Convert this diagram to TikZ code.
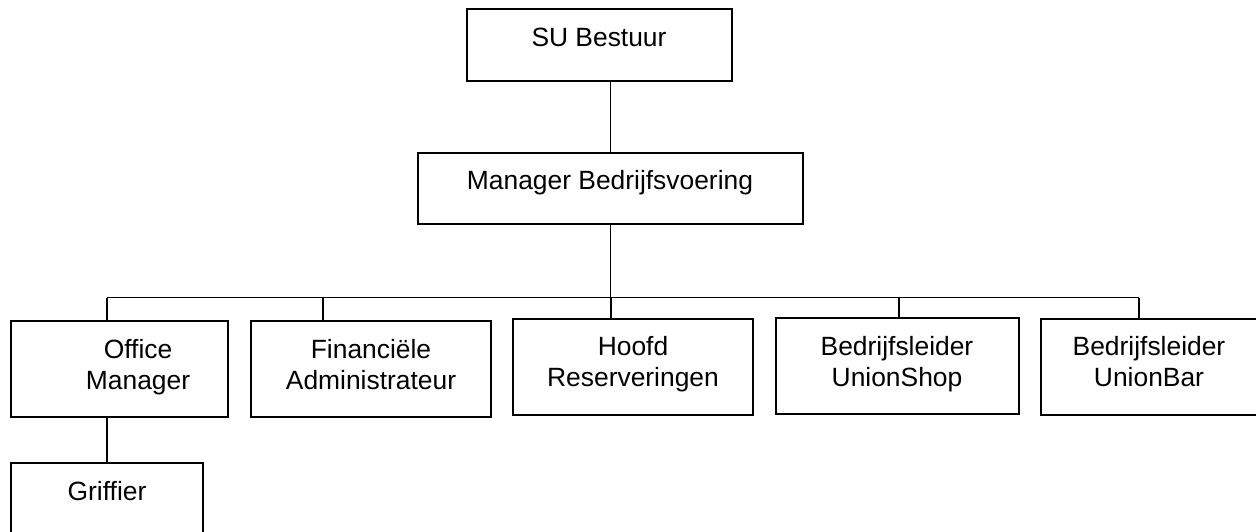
\documentclass[tikz,border=0pt]{standalone}
\usepackage{fontspec}
\setmainfont{Liberation Sans}
\begin{document}
\begin{tikzpicture}[x=1pt,y=-1pt,
  box/.style={draw=black, line width=1.8pt, rectangle, inner sep=0pt, fill=white},
  lbl/.style={anchor=base, align=center, inner sep=0pt, font=\fontsize{26.4}{30.5}\selectfont},
  conn/.style={draw=black, line width=1.8pt}]
\fill[white] (0,0) rectangle (1256,531);
\useasboundingbox (0,0) rectangle (1256,531);
% boxes
\node[box, minimum width=265pt, minimum height=72pt] (su) at (599.5,45) {};
\node[box, minimum width=385pt, minimum height=71pt] (mb) at (610.5,188.5) {};
\node[box, minimum width=217pt, minimum height=96pt] (om) at (119.5,369) {};
\node[box, minimum width=240pt, minimum height=96pt] (fa) at (371,369) {};
\node[box, minimum width=240pt, minimum height=96pt] (hr) at (633,367) {};
\node[box, minimum width=243pt, minimum height=96pt] (us) at (897.5,366) {};
\node[box, minimum width=222pt, minimum height=96pt] (ub) at (1152,367) {};
\node[box, minimum width=192pt, minimum height=80pt] (gr) at (107,503) {};
% texts (anchor base = last line baseline)
\node[lbl] (tsu) at (599,46) {SU Bestuur};
\node[lbl] (tmb) at (610,189) {Manager Bedrijfsvoering};
\node[lbl] (tom) at (138,389) {Office\\Manager};
\node[lbl] (tfa) at (371,389) {Financiële\\Administrateur};
\node[lbl] (thr) at (633,386) {Hoofd\\Reserveringen};
\node[lbl] (tus) at (897,386) {Bedrijfsleider\\UnionShop};
\node[lbl] (tub) at (1149,386) {Bedrijfsleider\\UnionBar};
\node[lbl] (tgr) at (107,500) {Griffier};
% bus drop points
\coordinate (dom) at (107,297.5);
\coordinate (dfa) at (323,297.5);
\coordinate (dhr) at (611,297.5);
\coordinate (dus) at (899,297.5);
\coordinate (dub) at (1139,297.5);
% connectors
\draw[conn] (su.south -| mb.north) -- (mb.north);
\draw[conn] (mb.south) -- (mb.south |- dom);
\draw[conn] (dom) -- (dub);
\draw[conn] (dom) -- (dom |- om.north);
\draw[conn] (dfa) -- (dfa |- fa.north);
\draw[conn] (dhr) -- (dhr |- hr.north);
\draw[conn] (dus) -- (dus |- us.north);
\draw[conn] (dub) -- (dub |- ub.north);
\draw[conn] (om.south -| gr.north) -- (gr.north);
\end{tikzpicture}
\end{document}
